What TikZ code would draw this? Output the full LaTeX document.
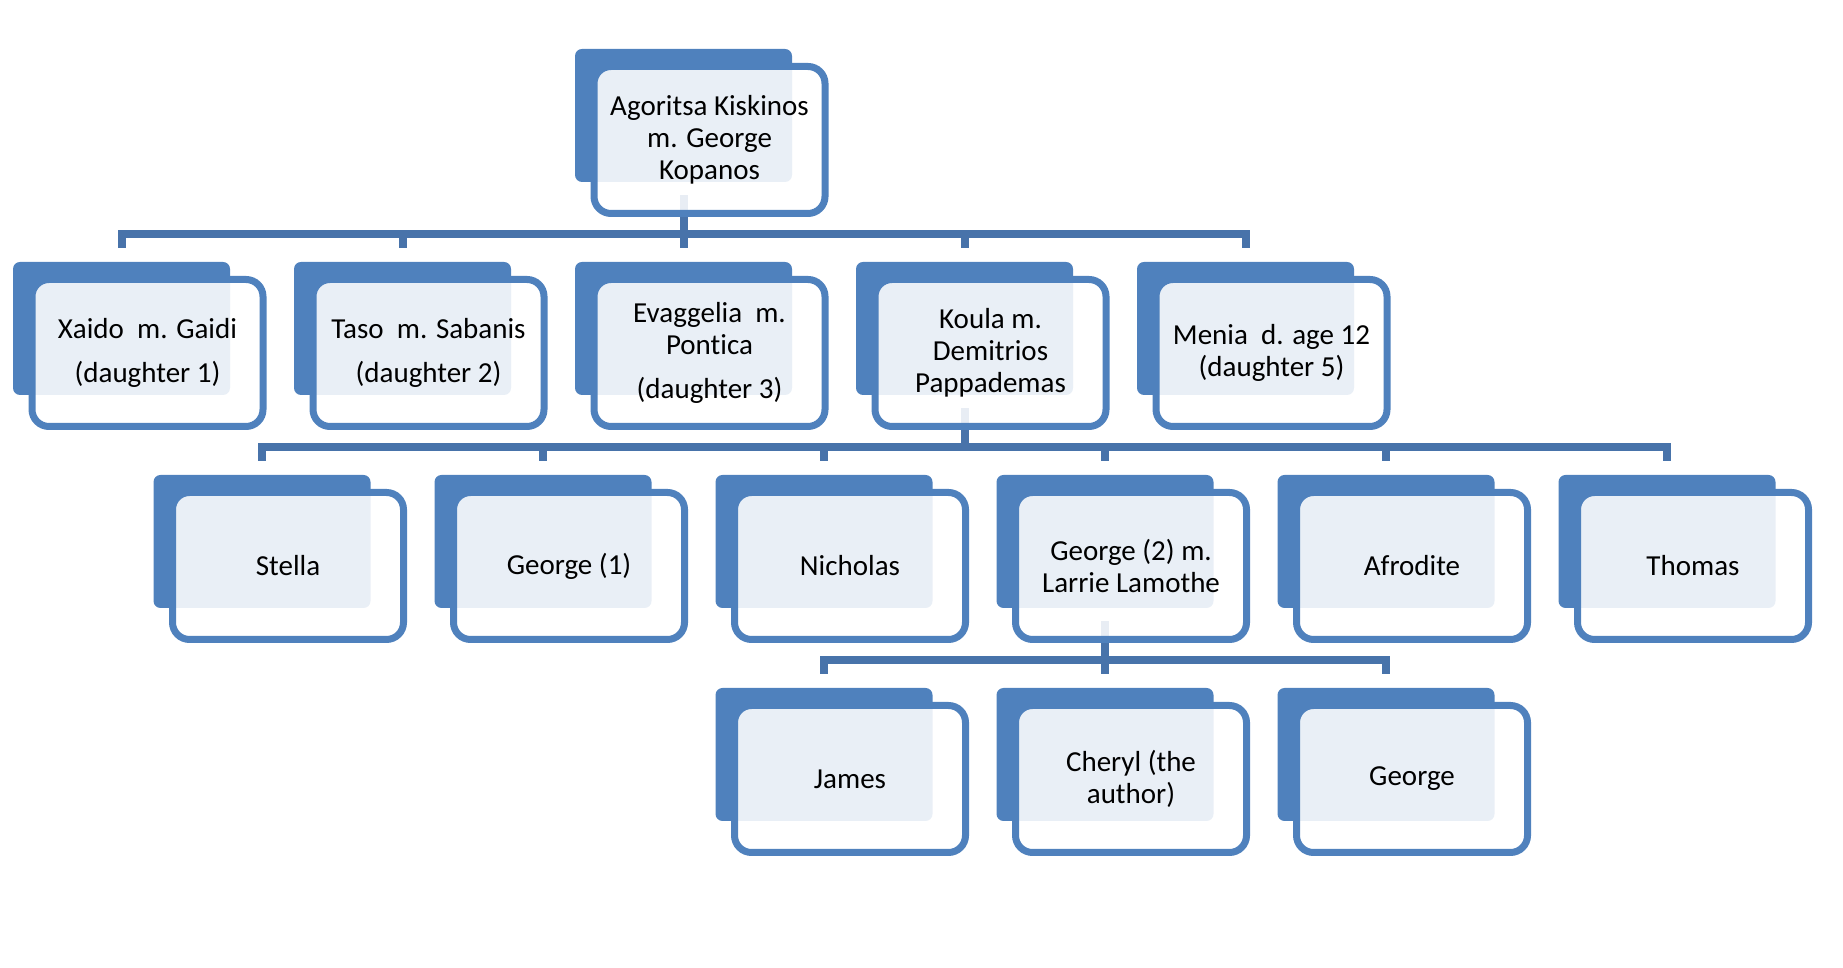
\documentclass[tikz,border=0pt]{standalone}
\usepackage{fontspec}
\setmainfont{Carlito}[Ligatures=NoCommon]
\usepackage{tikz}
\definecolor{boxblue}{RGB}{79,129,189}
\definecolor{linkblue}{RGB}{72,115,170}
\tikzset{
	famtree/.style={
		level distance=213pt,
		sibling distance=281pt,
		every child node/.style={backbox},
		edge from parent/.style={draw=linkblue, line width=8pt, shorten <=13pt, shorten >=14pt},
		edge from parent path={(\tikzparentnode.south) -- ++(0pt,-52pt) -| (\tikzchildnode.north)}
	},
	backbox/.style={fill=boxblue, rounded corners=7pt, minimum width=217pt, minimum height=133pt, inner sep=0pt},
	frontbox/.style={draw=boxblue, line width=7pt, fill=white, fill opacity=0.88, text opacity=1,
		rounded corners=17pt, minimum width=231pt, minimum height=147pt, inner sep=0pt,
		align=center, font=\fontsize{29}{32}\selectfont}
}

\begin{document}
\begin{tikzpicture}[x=1pt, y=1pt, famtree]
	\useasboundingbox (0,0) rectangle (1843,968);
	\node[backbox] (top) at (683.5,852.5) {}
	child { node (xaido) {} }
	child { node (taso) {} }
	child { node (evaggelia) {} }
	child { node (koula) {}
		child { node (stella) {} }
		child { node (george1) {} }
		child { node (nicholas) {} }
		child { node (george2) {}
			child { node (james) {} }
			child { node (cheryl) {} }
			child { node (georgec) {} }
		}
		child { node (afrodite) {} }
		child { node (thomas) {} }
	}
	child { node (menia) {} };
	\foreach \n/\t in {
		top/{Agoritsa Kiskinos\\m. George\\Kopanos},
		xaido/{Xaido\ \ m. Gaidi\\[12pt](daughter 1)},
		taso/{Taso\ \ m. Sabanis\\[12pt](daughter 2)},
		evaggelia/{Evaggelia\ \ m.\\Pontica\\[12pt](daughter 3)},
		koula/{Koula m.\\Demitrios\\Pappademas},
		menia/{Menia\ \ d. age 12\\(daughter 5)},
		stella/{Stella},
		george1/{George (1)},
		nicholas/{Nicholas},
		george2/{George (2) m.\\Larrie Lamothe},
		afrodite/{Afrodite},
		thomas/{Thomas},
		james/{James},
		cheryl/{Cheryl (the\\author)},
		georgec/{George}}
	\node[frontbox] (f\n) at ([xshift=26pt, yshift=-24.5pt]\n.center) {\t};
\end{tikzpicture}
\end{document}
